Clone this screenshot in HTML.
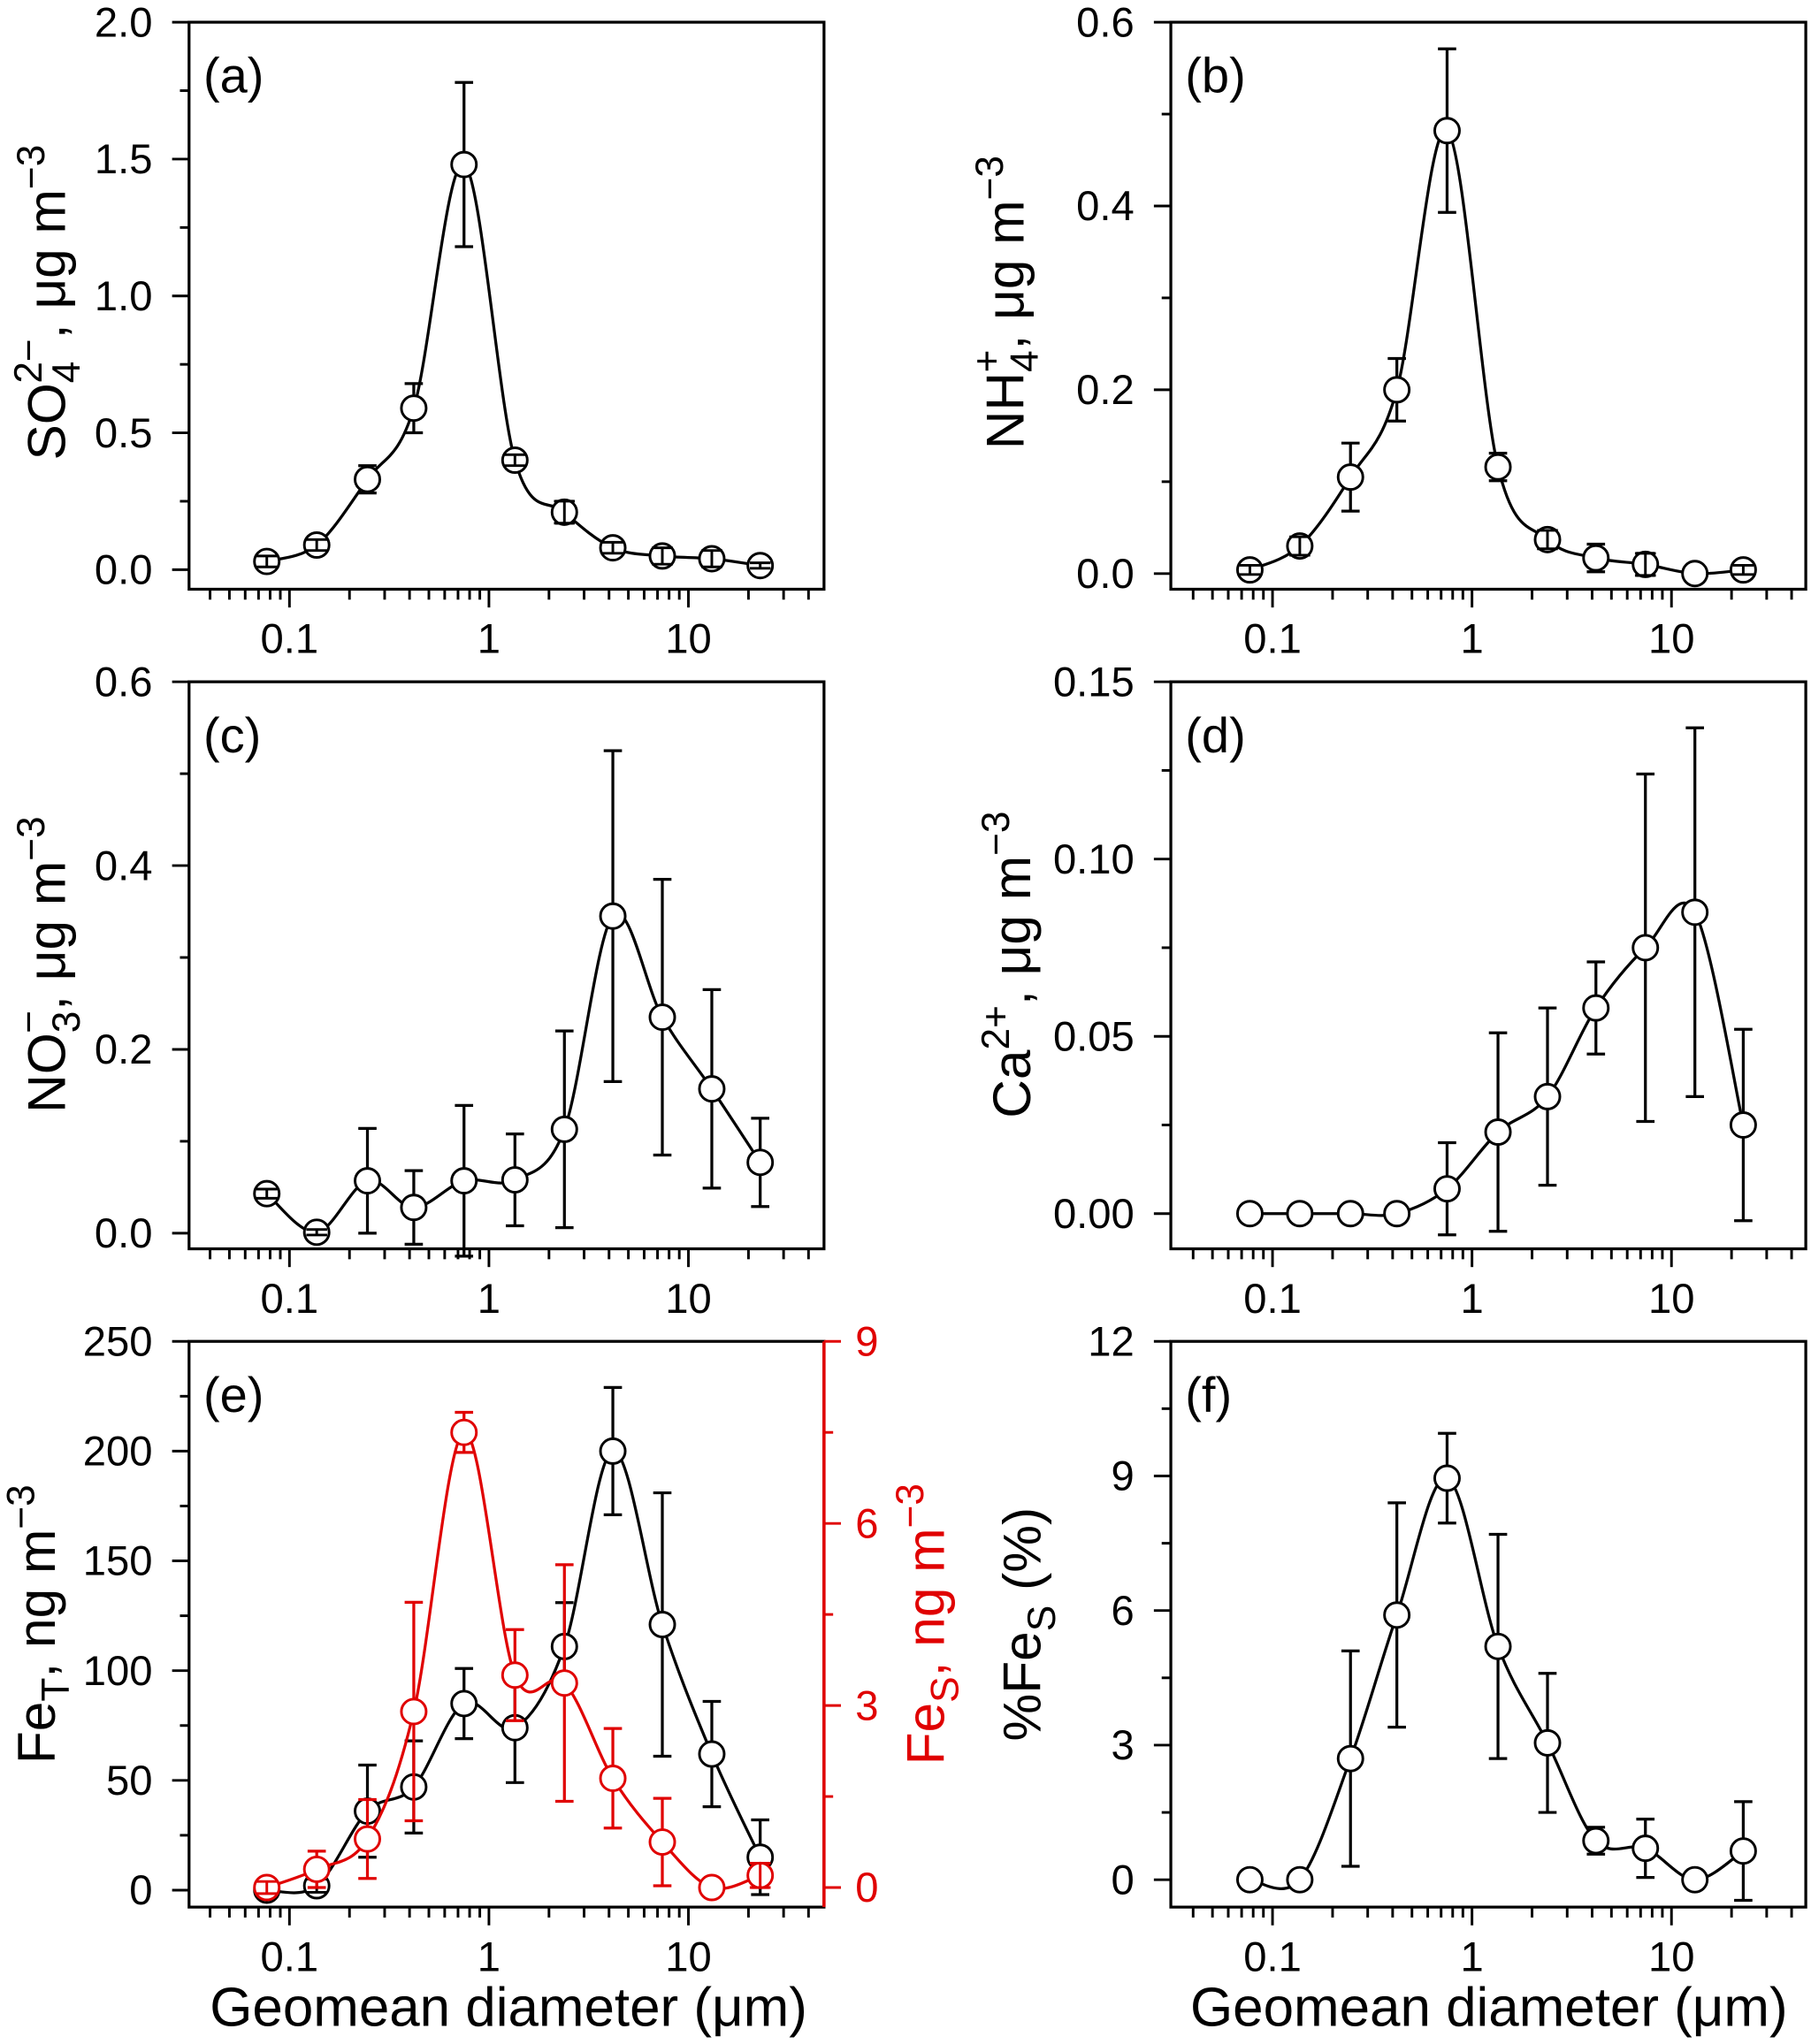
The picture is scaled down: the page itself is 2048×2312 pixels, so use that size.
<!DOCTYPE html>
<html><head><meta charset="utf-8"><style>
html,body{margin:0;padding:0;background:#fff;}
svg{display:block;font-family:"Liberation Sans",Arial,sans-serif;}
</style></head><body>
<svg id="fig" width="2048" height="2312" viewBox="0 0 1389 1568" xmlns="http://www.w3.org/2000/svg">
<g><text transform="translate(50,232) rotate(-90)" font-size="41" text-anchor="middle">SO<tspan font-size="30" dy="11">4</tspan><tspan font-size="30" dx="-17" dy="-29">2−</tspan><tspan dy="18">, μg m</tspan><tspan font-size="30" dy="-16">−3</tspan></text></g>
<g><text transform="translate(785,232) rotate(-90)" font-size="41" text-anchor="middle">NH<tspan font-size="30" dy="11">4</tspan><tspan font-size="30" dx="-17" dy="-29">+</tspan><tspan dy="18">, μg m</tspan><tspan font-size="30" dy="-16">−3</tspan></text></g>
<g><text transform="translate(50,740) rotate(-90)" font-size="41" text-anchor="middle">NO<tspan font-size="30" dy="11">3</tspan><tspan font-size="30" dx="-17" dy="-29">−</tspan><tspan dy="18">, μg m</tspan><tspan font-size="30" dy="-16">−3</tspan></text></g>
<g><text transform="translate(790,740) rotate(-90)" font-size="41" text-anchor="middle">Ca<tspan font-size="30" dy="-16">2+</tspan><tspan dy="16">, μg m</tspan><tspan font-size="30" dy="-16">−3</tspan></text></g>
<g><text transform="translate(42,1246) rotate(-90)" font-size="41" text-anchor="middle">Fe<tspan font-size="30" dy="11">T</tspan><tspan dy="-11">, ng m</tspan><tspan font-size="30" dy="-16">−3</tspan></text></g>
<g><text transform="translate(724,1246) rotate(-90)" font-size="41" text-anchor="middle" fill="#e00000">Fe<tspan font-size="30" dy="11">S</tspan><tspan dy="-11">, ng m</tspan><tspan font-size="30" dy="-16">−3</tspan></text></g>
<g><text transform="translate(798,1246) rotate(-90)" font-size="41" text-anchor="middle">%Fe<tspan font-size="30" dy="11">S</tspan><tspan dy="-11"> (%)</tspan></text></g>
<text x="390" y="1554" font-size="42" text-anchor="middle">Geomean diameter (μm)</text>
<text x="1142" y="1554" font-size="42" text-anchor="middle">Geomean diameter (μm)</text>
</svg>
<script>
const diam = [0.077, 0.137, 0.246, 0.42, 0.75, 1.35, 2.39, 4.18, 7.4, 13.1, 22.9];
const aVals = [0.03, 0.09, 0.33, 0.59, 1.48, 0.40, 0.21, 0.08, 0.05, 0.04, 0.015];
const aErr  = [0.02, 0.02, 0.05, 0.09, 0.30, 0.02, 0.04, 0.02, 0.03, 0.03, 0.01];
const bVals = [0.004, 0.03, 0.105, 0.20, 0.482, 0.116, 0.037, 0.017, 0.01, 0.0, 0.004];
const bErr  = [0.005, 0.01, 0.037, 0.034, 0.089, 0.015, 0.01, 0.015, 0.012, 0.0, 0.005];
const cVals = [0.043, 0.001, 0.057, 0.028, 0.057, 0.058, 0.113, 0.345, 0.235, 0.157, 0.077];
const cErr  = [0.005, 0.003, 0.057, 0.04, 0.082, 0.05, 0.107, 0.18, 0.15, 0.108, 0.048];
const dVals = [0, 0, 0, 0, 0.007, 0.023, 0.033, 0.058, 0.075, 0.085, 0.025];
const dErr  = [0, 0, 0, 0, 0.013, 0.028, 0.025, 0.013, 0.049, 0.052, 0.027];
const eTVals = [0, 2, 36, 47, 85, 74, 111, 200, 121, 62, 15];
const eTErr  = [3, 3, 21, 21, 16, 25, 20, 29, 60, 24, 17];
const eSVals = [0, 0.3, 0.8, 2.9, 7.5, 3.5, 3.37, 1.8, 0.75, 0, 0.2];
const eSErr  = [0.1, 0.3, 0.65, 1.8, 0.33, 0.75, 1.95, 0.82, 0.72, 0, 0.2];
const fVals = [0, 0, 2.7, 5.9, 8.95, 5.2, 3.05, 0.87, 0.7, 0, 0.64];
const fErr  = [0, 0, 2.4, 2.5, 1.0, 2.5, 1.55, 0.3, 0.65, 0, 1.1];
const aTicks = ["0.0","0.5","1.0","1.5","2.0"];
const bTicks = ["0.0","0.2","0.4","0.6"];
const cTicks = ["0.0","0.2","0.4","0.6"];
const dTicks = ["0.00","0.05","0.10","0.15"];
const eTicks = ["0","50","100","150","200","250"];
const eRTicks = ["0","3","6","9"];
const fTicks = ["0","3","6","9","12"];
const xTickLabels = ["0.1","1","10"];

const NS = "http://www.w3.org/2000/svg";
const svg = document.getElementById("fig");
function mk(tag, attrs, parent){const e=document.createElementNS(NS,tag);for(const k in attrs)e.setAttribute(k,attrs[k]);(parent||svg).appendChild(e);return e;}

function panel(p){
  const g = mk("g",{});
  
  
  const X = d => p.x1 + 153*Math.log10(d);
  const Y = v => p.y0 - (v-p.ymin)/(p.ymax-p.ymin)*(p.y0-p.ytop);
  const box = mk("rect",{x:p.bx0,y:p.ytop,width:p.bx1-p.bx0,height:p.by1-p.ytop,fill:"none",stroke:"#000","stroke-width":2.2},g);
  
  
  for(let dec=-2;dec<=1;dec++){for(let m=1;m<=9;m++){const d=m*Math.pow(10,dec);const x=X(d);if(x<p.bx0-0.5||x>p.bx1+0.5)continue;
    mk("line",{x1:x,x2:x,y1:p.by1,y2:p.by1+(m===1?14:8),stroke:"#000","stroke-width":2},g);}}
  xTickLabels.forEach(t=>{const tx=mk("text",{x:X(parseFloat(t)),y:p.by1+49,"font-size":32,"text-anchor":"middle"},g);tx.textContent=t;
    
    });
  const n=p.ticks.length;
  p.ticks.forEach((t,i)=>{const v=p.ymin+(p.ymax-p.ymin)*i/(n-1);const y=Y(v);
    mk("line",{x1:p.bx0-13,x2:p.bx0,y1:y,y2:y,stroke:"#000","stroke-width":2},g);
    if(i<n-1){const ym=Y(v+(p.ymax-p.ymin)/(n-1)/2);mk("line",{x1:p.bx0-7,x2:p.bx0,y1:ym,y2:ym,stroke:"#000","stroke-width":2},g);}
    const tx=mk("text",{x:p.bx0-28,y:y+11,"font-size":32,"text-anchor":"end"},g);tx.textContent=t;
    
    });
  const lab=mk("text",{x:p.bx0+11,y:p.ytop+54,"font-size":38},g);lab.textContent="("+p.id+")";
  
  
  return {g,X,Y};
}
function series(g,X,Y,vals,err,color,name){
  const pts=vals.map((v,i)=>[X(diam[i]),Y(v)]);
  let d="M"+pts[0][0]+","+pts[0][1];
  for(let i=0;i<pts.length-1;i++){const p0=pts[Math.max(0,i-1)],p1=pts[i],p2=pts[i+1],p3=pts[Math.min(pts.length-1,i+2)];
    const c1=[p1[0]+(p2[0]-p0[0])/6,p1[1]+(p2[1]-p0[1])/6],c2=[p2[0]-(p3[0]-p1[0])/6,p2[1]-(p3[1]-p1[1])/6];
    d+=" C"+c1+" "+c2+" "+p2;}
  const line=mk("path",{d:d,fill:"none",stroke:color,"stroke-width":2.2},g);
  
  
  vals.forEach((v,i)=>{const x=X(diam[i]);const yt=Y(v+err[i]),yb=Y(v-err[i]);
    const eb=mk("path",{d:`M${x},${yt}V${yb}M${x-7},${yt}H${x+7}M${x-7},${yb}H${x+7}`,stroke:color,"stroke-width":2.2,fill:"none"},g);
    
    });
  vals.forEach((v,i)=>{const c=mk("circle",{cx:X(diam[i]),cy:Y(v),r:9.5,fill:"#fff",stroke:color,"stroke-width":2},g);
    
    });
  vals.forEach((v,i)=>{if(err[i]>0&&Math.abs(Y(v+err[i])-Y(v))<9.5){const x=X(diam[i]);const yt=Y(v+err[i]),yb=Y(v-err[i]);
    mk("path",{d:`M${x},${yt}V${yb}M${x-8},${yt}H${x+8}M${x-8},${yb}H${x+8}`,stroke:color,"stroke-width":2,fill:"none"},g);}});
}
const col1={bx0:145,bx1:632,x1:375}, col2={bx0:898,bx1:1385,x1:1129};
let P;
P=panel({id:"a",...col1,ytop:17,by1:452,y0:437,ymin:0,ymax:2,ticks:aTicks});series(P.g,P.X,P.Y,aVals,aErr,"#000","sulfate");
P=panel({id:"b",...col2,ytop:17,by1:452,y0:440,ymin:0,ymax:0.6,ticks:bTicks});series(P.g,P.X,P.Y,bVals,bErr,"#000","ammonium");
P=panel({id:"c",...col1,ytop:523,by1:958,y0:946,ymin:0,ymax:0.6,ticks:cTicks});series(P.g,P.X,P.Y,cVals,cErr,"#000","nitrate");
P=panel({id:"d",...col2,ytop:523,by1:958,y0:931,ymin:0,ymax:0.15,ticks:dTicks});series(P.g,P.X,P.Y,dVals,dErr,"#000","calcium");
P=panel({id:"e",...col1,ytop:1029,by1:1463,y0:1450,ymin:0,ymax:250,ticks:eTicks});
(function(){const g=P.g;const YR=v=>1448-v/9*(1448-1029);
  const ax=mk("line",{x1:632,x2:632,y1:1029,y2:1463,stroke:"#e00000","stroke-width":2.4},g);
  
  
  eRTicks.forEach((t,i)=>{const v=9*i/(eRTicks.length-1);const y=YR(v);
    mk("line",{x1:632,x2:645,y1:y,y2:y,stroke:"#e00000","stroke-width":2},g);
    if(i<eRTicks.length-1){const ym=YR(v+1.5);mk("line",{x1:632,x2:639,y1:ym,y2:ym,stroke:"#e00000","stroke-width":2},g);}
    const tx=mk("text",{x:656,y:y+11,"font-size":32,fill:"#e00000"},g);tx.textContent=t;
    
    });
  series(g,P.X,P.Y,eTVals,eTErr,"#000","total-iron");
  series(g,P.X,YR,eSVals,eSErr,"#e00000","soluble-iron");
})();
P=panel({id:"f",...col2,ytop:1029,by1:1463,y0:1442,ymin:0,ymax:12,ticks:fTicks});series(P.g,P.X,P.Y,fVals,fErr,"#000","soluble-fraction");
</script>
</body></html>
